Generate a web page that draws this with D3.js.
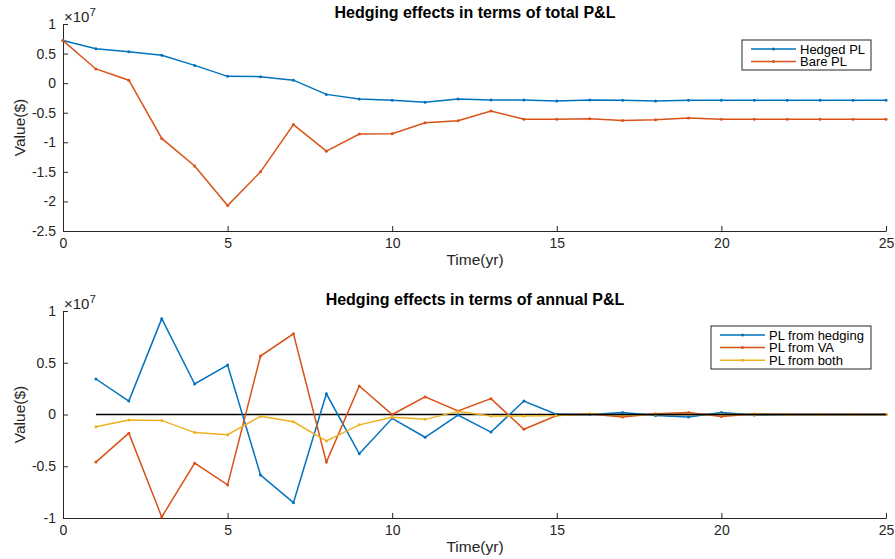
<!DOCTYPE html>
<html>
<head>
<meta charset="utf-8">
<script src="https://cdnjs.cloudflare.com/ajax/libs/d3/7.8.5/d3.min.js"></script>
<style>
  body { margin: 0; background: #fff; }
  text { font-family: "Liberation Sans", Arial, Helvetica, sans-serif; }
</style>
</head>
<body>
<svg id="chart" width="895" height="559"></svg>
<script>
// values in units of 1e7
var years = d3.range(0, 26);
var hedgedPL = [0.72, 0.58, 0.53, 0.47, 0.30, 0.115, 0.11, 0.05, -0.19, -0.27, -0.29, -0.325, -0.27,
  -0.285, -0.285, -0.30, -0.285, -0.29, -0.30, -0.29, -0.29, -0.29, -0.29, -0.29, -0.29, -0.29];
var barePL = [0.72, 0.24, 0.05, -0.935, -1.40, -2.07, -1.50, -0.70, -1.15, -0.86, -0.855, -0.67, -0.635,
  -0.47, -0.61, -0.61, -0.60, -0.63, -0.62, -0.59, -0.61, -0.61, -0.61, -0.61, -0.61, -0.61];

var annualYears = d3.range(1, 26);
var plHedging = [0.343, 0.13, 0.926, 0.295, 0.478, -0.585, -0.852, 0.20, -0.38, -0.037, -0.22, -0.005,
  -0.17, 0.13, 0, 0, 0.02, -0.01, -0.025, 0.02, -0.005, 0, 0, 0, 0];
var plVA = [-0.46, -0.18, -0.99, -0.47, -0.68, 0.565, 0.78, -0.46, 0.275, 0, 0.17, 0.035,
  0.153, -0.143, -0.01, 0.005, -0.025, 0.008, 0.02, -0.02, 0.005, 0, 0, 0, 0];
var plBoth = [-0.118, -0.053, -0.057, -0.175, -0.195, -0.018, -0.07, -0.256, -0.10, -0.027, -0.047, 0.03,
  -0.015, -0.015, -0.01, 0.005, -0.005, 0, 0, 0, 0, 0, 0, 0, 0];

var xTicks = [0, 5, 10, 15, 20, 25];
var yTicksTop = [-2.5, -2, -1.5, -1, -0.5, 0, 0.5, 1];
var yTicksBottom = [-1, -0.5, 0, 0.5, 1];

var blue = "#0072BD", red = "#D95319", yellow = "#EDB120", axisCol = "#262626";

var svg = d3.select("#chart");

function panel(opts) {
  var x = d3.scaleLinear().domain([0, 25]).range([63, 886]);
  var y = d3.scaleLinear().domain(opts.yDomain).range([opts.bottom, opts.top]);
  var g = svg.append("g");

  var xAxis = d3.axisBottom(x).tickValues(xTicks).tickSizeInner(-5).tickSizeOuter(0).tickPadding(7)
    .tickFormat(function(d) { return String(d); });
  var gx = g.append("g").attr("transform", "translate(0," + opts.bottom + ")").call(xAxis);
  var yAxis = d3.axisLeft(y).tickValues(opts.yTicks).tickSizeInner(-5).tickSizeOuter(0).tickPadding(7)
    .tickFormat(function(d) { return String(d); });
  var gy = g.append("g").attr("transform", "translate(63,0)").call(yAxis);
  [gx, gy].forEach(function(a) {
    a.select(".domain").attr("stroke", axisCol).attr("stroke-width", 1);
    a.selectAll(".tick line").attr("stroke", axisCol);
    a.selectAll(".tick text").attr("fill", axisCol).style("font-size", "14px");
  });

  // exponent
  var ex = g.append("text").attr("x", 64).attr("y", opts.top - 2).attr("fill", axisCol)
    .style("font-size", "15px");
  ex.append("tspan").text("\u00d710");
  ex.append("tspan").attr("dy", -6).style("font-size", "11.5px").text("7");

  g.append("text").attr("x", 475).attr("y", opts.top - 6).attr("text-anchor", "middle")
    .style("font-size", "16px").style("font-weight", "bold").attr("fill", "#000").text(opts.title);
  g.append("text").attr("x", 475).attr("y", opts.bottom + 34).attr("text-anchor", "middle")
    .style("font-size", "15.5px").attr("fill", axisCol).text("Time(yr)");
  g.append("text").attr("transform", "translate(25," + ((opts.top + opts.bottom) / 2) + ") rotate(-90)")
    .attr("text-anchor", "middle").style("font-size", "15.5px").attr("fill", axisCol).text("Value($)");

  if (opts.zeroLine) {
    g.append("line").attr("x1", x(1)).attr("x2", x(25)).attr("y1", y(0)).attr("y2", y(0))
      .attr("stroke", "#000").attr("stroke-width", 1.5);
  }

  var line = d3.line().x(function(d) { return x(d[0]); }).y(function(d) { return y(d[1]); });
  opts.series.forEach(function(s) {
    var pts = s.xs.map(function(v, i) { return [v, s.values[i]]; });
    g.append("path").datum(pts).attr("d", line).attr("fill", "none")
      .attr("stroke", s.color).attr("stroke-width", 1.5);
    g.selectAll(null).data(pts).enter().append("circle")
      .attr("cx", function(d) { return x(d[0]); }).attr("cy", function(d) { return y(d[1]); })
      .attr("r", 1.5).attr("fill", s.color);
  });
  if (opts.zeroLine) {
    g.append("line").attr("x1", x(15)).attr("x2", x(25)).attr("y1", y(0)).attr("y2", y(0))
      .attr("stroke", "#000").attr("stroke-width", 1.5);
  }

  // legend
  var L = opts.legend;
  g.append("rect").attr("x", L.x).attr("y", L.y).attr("width", L.w).attr("height", L.h)
    .attr("fill", "#fff").attr("stroke", axisCol).attr("stroke-width", 1);
  opts.series.forEach(function(s, i) {
    var ry = L.y + 9 + i * 12.6;
    g.append("line").attr("x1", L.x + 9).attr("x2", L.x + 54).attr("y1", ry).attr("y2", ry)
      .attr("stroke", s.color).attr("stroke-width", 1.5);
    g.append("circle").attr("cx", L.x + 31.5).attr("cy", ry).attr("r", 1.5).attr("fill", s.color);
    g.append("text").attr("x", L.x + 58).attr("y", ry + 4.5).style("font-size", "13px")
      .attr("fill", "#000").text(s.name);
  });
}

panel({
  top: 24, bottom: 231, yDomain: [-2.5, 1], yTicks: yTicksTop,
  title: "Hedging effects in terms of total P&L",
  series: [
    { name: "Hedged PL", xs: years, values: hedgedPL, color: blue },
    { name: "Bare PL", xs: years, values: barePL, color: red }
  ],
  legend: { x: 742, y: 40, w: 129, h: 30 }
});

panel({
  top: 311, bottom: 518, yDomain: [-1, 1], yTicks: yTicksBottom, zeroLine: true,
  title: "Hedging effects in terms of annual P&L",
  series: [
    { name: "PL from hedging", xs: annualYears, values: plHedging, color: blue },
    { name: "PL from VA", xs: annualYears, values: plVA, color: red },
    { name: "PL from both", xs: annualYears, values: plBoth, color: yellow }
  ],
  legend: { x: 711, y: 326, w: 160, h: 43 }
});
</script>
</body>
</html>
